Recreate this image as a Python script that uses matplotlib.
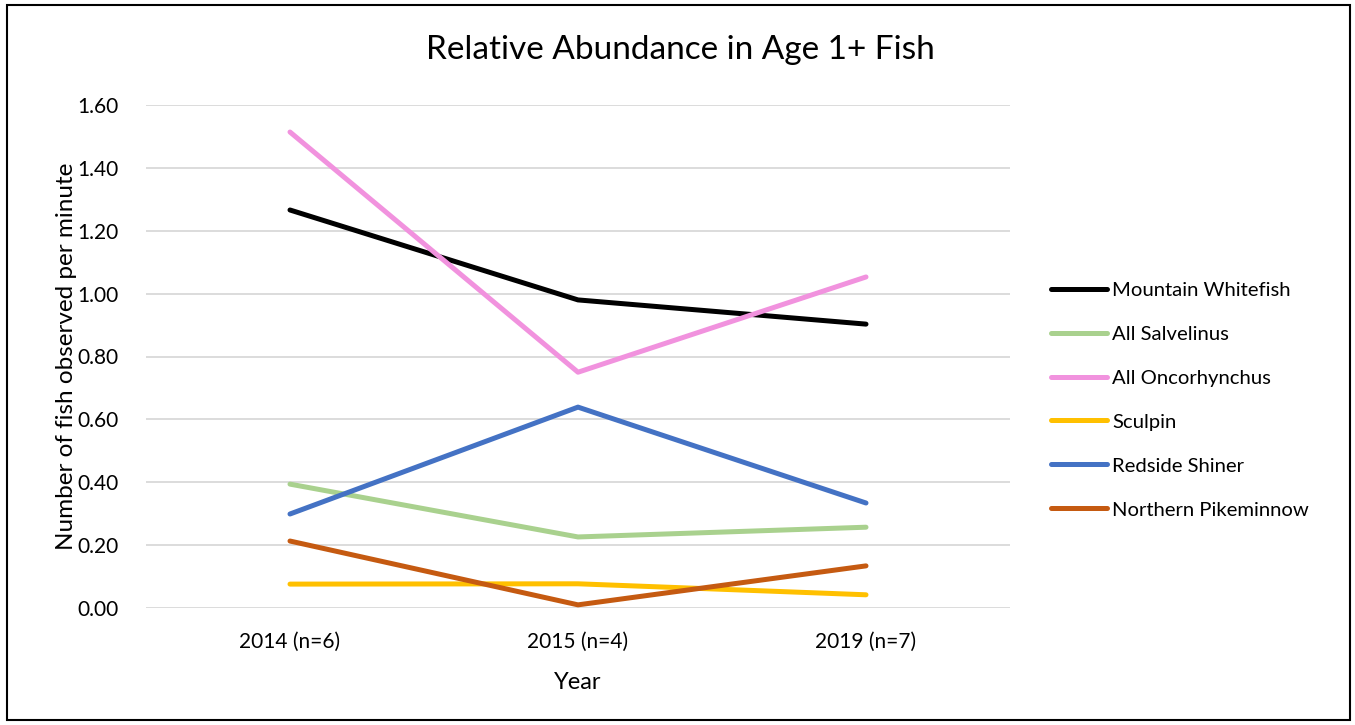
import matplotlib.pyplot as plt
from matplotlib.patches import Rectangle

plt.rcParams['font.family'] = ['Lato', 'DejaVu Sans']

# Data
years = ['2014 (n=6)', '2015 (n=4)', '2019 (n=7)']
whitefish = [1.266, 0.980, 0.903]
salvelinus = [0.394, 0.226, 0.257]
oncorhynchus = [1.514, 0.750, 1.053]
sculpin = [0.076, 0.077, 0.042]
redside = [0.299, 0.639, 0.334]
pikeminnow = [0.213, 0.010, 0.134]

series = [
    ('Mountain Whitefish', whitefish, '#000000'),
    ('All Salvelinus', salvelinus, '#A9D18E'),
    ('All Oncorhynchus', oncorhynchus, '#F192DE'),
    ('Sculpin', sculpin, '#FFC000'),
    ('Redside Shiner', redside, '#4472C4'),
    ('Northern Pikeminnow', pikeminnow, '#C55A11'),
]

fig = plt.figure(figsize=(13.55, 7.25), dpi=100)
ax = fig.add_axes([146 / 1355, 1 - 608 / 725, 864 / 1355, 503 / 725])

x = range(len(years))
for name, vals, color in series:
    ax.plot(x, vals, color=color, lw=3.6, label=name, solid_capstyle='round')

ax.set_xlim(-0.5, 2.5)
ax.set_ylim(0, 1.6)
ax.set_yticks([i * 0.2 for i in range(9)])
ax.set_yticklabels(['%.2f' % (i * 0.2) for i in range(9)])
ax.set_xticks(list(x))
ax.set_xticklabels(years)
ax.tick_params(length=0, labelsize=15, pad=20)
ax.tick_params(axis='x', pad=17)
ax.grid(axis='y', color='#D9D9D9', lw=1.3)
ax.set_axisbelow(True)
for s in ax.spines.values():
    s.set_visible(False)

ax.set_xlabel('Year', fontsize=17, labelpad=15)
ax.set_ylabel('Number of fish observed per minute', fontsize=17.5, labelpad=0)
fig.text(680 / 1355, 1 - 50 / 725, 'Relative Abundance in Age 1+ Fish', fontsize=24,
         ha='center', va='center')

fig.legend(loc='center left', bbox_to_anchor=(1033 / 1355, 1 - 400 / 725), frameon=False,
           fontsize=14.6, handlelength=2.75, handletextpad=0.25, labelspacing=1.32)

fig.add_artist(Rectangle((7 / 1355, 5 / 725), 1343 / 1355, 715 / 725, transform=fig.transFigure,
                         fill=False, edgecolor='black', lw=1.5))

fig.savefig('out.png', dpi=100)
